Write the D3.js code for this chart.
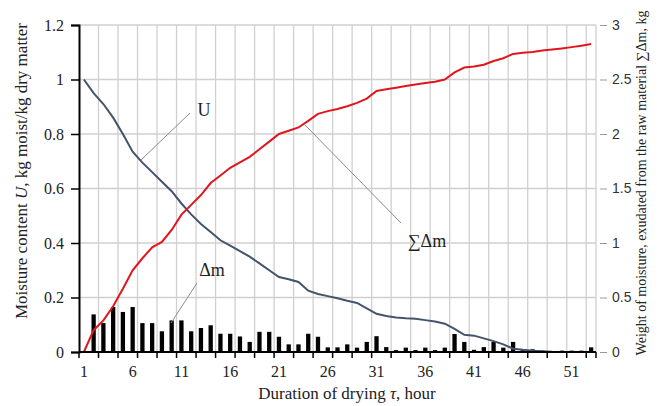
<!DOCTYPE html>
<html>
<head>
<meta charset="utf-8">
<script src="https://cdn.jsdelivr.net/npm/d3@7"></script>
<style>
  body { margin: 0; background: #fff; }
  svg { display: block; font-family: "Liberation Serif", "Times New Roman", serif; }
</style>
</head>
<body>
<svg width="659" height="406"></svg>
<script>
const svg = d3.select('svg');

// drying hours (categories)
const hours = [1,2,3,4,5,6,7,8,9,10,11,12,13,14,15,16,17,18,19,20,21,22,23,24,25,26,27,
  28,29,30,31,32,33,34,35,36,37,38,39,40,41,42,43,44,45,46,47,48,49,50,51,52,53];
const xTickLabels = [1, 6, 11, 16, 21, 26, 31, 36, 41, 46, 51];

// moisture content U (left axis), hours 1..50
const moisture = [1.0, 0.95, 0.91, 0.86, 0.80, 0.735, 0.695, 0.66, 0.625, 0.59,
  0.545, 0.505, 0.47, 0.44, 0.41, 0.39, 0.37, 0.35, 0.325, 0.30,
  0.275, 0.267, 0.257, 0.225, 0.213, 0.205, 0.197, 0.188, 0.18, 0.16,
  0.14, 0.132, 0.127, 0.124, 0.122, 0.117, 0.112, 0.104, 0.085, 0.063,
  0.06, 0.05, 0.04, 0.028, 0.012, 0.008, 0.005, 0.003, 0.001, 0];

// moisture removed per hour, delta m (bars, left axis scale)
const deltaM = [0, 0.138, 0.106, 0.165, 0.147, 0.165, 0.106, 0.106, 0.076, 0.116,
  0.116, 0.076, 0.088, 0.098, 0.067, 0.067, 0.057, 0.037, 0.074, 0.074,
  0.056, 0.028, 0.028, 0.067, 0.056, 0.017, 0.017, 0.028, 0.016, 0.037,
  0.058, 0.018, 0.007, 0.016, 0.007, 0.016, 0.007, 0.016, 0.066, 0.037,
  0.008, 0.018, 0.037, 0.016, 0.037, 0.01, 0.01, 0.005, 0.003, 0.005,
  0.005, 0.005, 0.017];

// cumulative removed moisture (right axis)
const sumDeltaM = [0, 0.2, 0.29, 0.42, 0.58, 0.75, 0.86, 0.96, 1.01, 1.12,
  1.26, 1.35, 1.44, 1.55, 1.62, 1.69, 1.74, 1.79, 1.86, 1.93,
  2.0, 2.03, 2.06, 2.12, 2.185, 2.21, 2.23, 2.255, 2.285, 2.325,
  2.395, 2.41, 2.425, 2.44, 2.455, 2.468, 2.48, 2.5, 2.565, 2.61,
  2.62, 2.635, 2.67, 2.695, 2.735, 2.745, 2.752, 2.765, 2.775, 2.785,
  2.797, 2.81, 2.825];

const leftTicks = [0, 0.2, 0.4, 0.6, 0.8, 1, 1.2];
const rightTicks = [0, 0.5, 1, 1.5, 2, 2.5, 3];

const margin = { top: 25, right: 63, bottom: 54, left: 79 };
const width = 659, height = 406;
const x0 = margin.left, x1 = width - margin.right;
const y0 = height - margin.bottom, y1 = margin.top;

const xScale = d3.scaleBand().domain(hours).range([x0, x1]).padding(0);
const bw = xScale.bandwidth();
const cx = d => xScale(d) + bw / 2;
const yLeft = d3.scaleLinear().domain([0, 1.2]).range([y0, y1]);
const yRight = d3.scaleLinear().domain([0, 3]).range([y0, y1]);

const grid = svg.append('g').attr('stroke', '#d0d0d0').attr('stroke-width', 1.3);
// horizontal grid
leftTicks.filter(t => t > 0).forEach(t => {
  grid.append('line').attr('x1', x0).attr('x2', x1)
    .attr('y1', yLeft(t)).attr('y2', yLeft(t));
});
// vertical grid every 2 categories
const vBounds = hours.filter(h => h % 2 === 1 && h > 1).map(h => xScale(h)).concat([x1]);
vBounds.forEach(xv => {
  grid.append('line').attr('x1', xv).attr('x2', xv).attr('y1', y1).attr('y2', y0);
});

// bars
svg.append('g').selectAll('rect').data(hours.map((h, i) => ({ h, v: deltaM[i] })))
  .enter().append('rect')
    .attr('x', d => cx(d.h) - bw * 0.22)
    .attr('width', bw * 0.44)
    .attr('y', d => yLeft(d.v))
    .attr('height', d => y0 - yLeft(d.v))
    .attr('fill', '#000');

// lines
const lineU = d3.line().x((d, i) => cx(hours[i])).y(d => yLeft(d));
svg.append('path').datum(moisture)
  .attr('d', lineU).attr('fill', 'none')
  .attr('stroke', '#44546a').attr('stroke-width', 2);

const lineS = d3.line().x((d, i) => cx(hours[i])).y(d => yRight(d));
svg.append('path').datum(sumDeltaM)
  .attr('d', lineS).attr('fill', 'none')
  .attr('stroke', '#e0161e').attr('stroke-width', 2);

// left axis
const yAxisG = svg.append('g')
  .attr('transform', `translate(${x0},0)`)
  .call(d3.axisLeft(yLeft).tickValues(leftTicks)
    .tickFormat(d => d3.format('')(+d.toFixed(1))).tickSize(8).tickPadding(7));
yAxisG.select('.domain').attr('stroke', '#000').attr('stroke-width', 2);
yAxisG.selectAll('.tick line').attr('stroke', '#000').attr('stroke-width', 1.5);
yAxisG.selectAll('text').attr('font-size', 16).attr('fill', '#222')
  .attr('font-family', '"Liberation Serif", serif');

// bottom axis
svg.append('line').attr('x1', x0).attr('x2', x1).attr('y1', y0).attr('y2', y0)
  .attr('stroke', '#000').attr('stroke-width', 2);
[x0].concat(vBounds).forEach(xv => {
  svg.append('line').attr('x1', xv).attr('x2', xv).attr('y1', y0).attr('y2', y0 + 6)
    .attr('stroke', '#000').attr('stroke-width', 1.5);
});
svg.append('g').selectAll('text').data(xTickLabels).enter().append('text')
  .attr('x', d => cx(d)).attr('y', y0 + 25)
  .attr('text-anchor', 'middle').attr('font-size', 16).attr('fill', '#222')
  .text(d => d);

// right axis
const rAxis = svg.append('g').attr('transform', `translate(${x1 + 4},0)`)
  .call(d3.axisRight(yRight).tickValues(rightTicks).tickSize(7).tickPadding(5)
    .tickFormat(d => String(d)));
rAxis.select('.domain').remove();
rAxis.selectAll('.tick line').attr('stroke', '#999');
rAxis.selectAll('text').attr('font-size', 14).attr('fill', '#333')
  .attr('font-family', '"Liberation Sans", Arial, sans-serif');

// axis titles
const lt = svg.append('text')
  .attr('transform', 'translate(27,171) rotate(-90)')
  .attr('text-anchor', 'middle').attr('font-size', 17).attr('fill', '#222');
lt.append('tspan').text('Moisture content ');
lt.append('tspan').attr('font-style', 'italic').text('U');
lt.append('tspan').text(', kg moist/kg dry matter');

svg.append('text')
  .attr('transform', 'translate(646,183) rotate(-90)')
  .attr('text-anchor', 'middle').attr('font-size', 14).attr('fill', '#222')
  .text('Weight of moisture, exudated from the raw material  \u2211\u0394m, kg');

const bt = svg.append('text')
  .attr('x', 347).attr('y', 399)
  .attr('text-anchor', 'middle').attr('font-size', 17).attr('fill', '#222');
bt.append('tspan').text('Duration of drying  ');
bt.append('tspan').attr('font-style', 'italic').text('\u03C4');
bt.append('tspan').text(', hour');

// annotations
const notes = [
  { label: 'U', lx: 204, ly: 116, from: [190, 113], to: [141, 160] },
  { label: '\u0394m', lx: 212, ly: 276, from: [197, 283], to: [171, 323] },
  { label: '\u2211\u0394m', lx: 427, ly: 247, from: [401, 223], to: [304, 124] }
];
notes.forEach(n => {
  svg.append('line').attr('x1', n.from[0]).attr('y1', n.from[1])
    .attr('x2', n.to[0]).attr('y2', n.to[1])
    .attr('stroke', '#8c8c8c').attr('stroke-width', 1);
  svg.append('text').attr('x', n.lx).attr('y', n.ly)
    .attr('text-anchor', 'middle').attr('font-size', 18).attr('fill', '#222')
    .text(n.label);
});
</script>
</body>
</html>
